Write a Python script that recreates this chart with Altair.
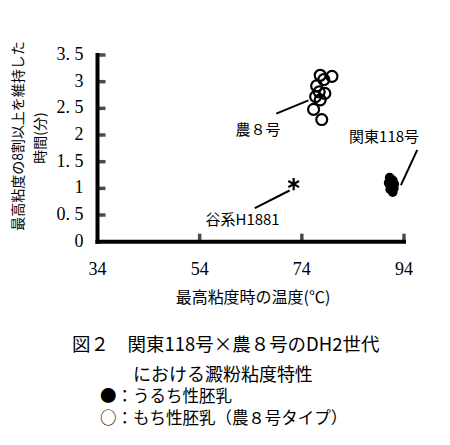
import altair as alt
import pandas as pd

# ---- data ----
waxy_x = [77.6, 79.9, 78.3, 76.9, 77.4, 78.5, 76.7, 77.6, 76.3, 77.9]   # 農8号タイプ (open)
waxy_y = [3.12, 3.10, 3.04, 2.92, 2.81, 2.78, 2.72, 2.66, 2.48, 2.29]
nonwaxy_x = [91.2, 91.8, 91.0, 91.5, 92.0, 91.3, 91.8, 92.1]          # 関東118号 (filled)
nonwaxy_y = [1.20, 1.15, 1.10, 1.05, 1.00, 0.98, 0.93, 1.08]
ref_x = [72.4]                                                        # 谷系H1881
ref_y = [1.08]

x_ticks = [34, 54, 74, 94]
y_ticks = [0, 0.5, 1, 1.5, 2, 2.5, 3, 3.5]
x_tick_labels = ["34", "54", "74", "94"]
y_tick_labels = ["0", "0. 5", "1", "1. 5", "2", "2. 5", "3", "3. 5"]

labels = ["農８号", "関東118号", "谷系H1881"]
label_x = [65.4, 90.1, 62.4]
label_y = [2.09, 1.96, 0.40]
leader_x1 = [69.0, 93.4, 64.8]
leader_y1 = [2.40, 1.06, 0.63]
leader_x2 = [75.3, 96.6, 71.6]
leader_y2 = [2.65, 1.72, 0.96]

x_title = "最高粘度時の温度(℃)"
y_title = ["最高粘度の8割以上を維持した", "時間(分)"]
caption = [
    "図２　関東118号×農８号のDH2世代",
    "における澱粉粘度特性",
    "●：うるち性胚乳",
    "○：もち性胚乳（農８号タイプ）",
]

JP = "Noto Sans CJK JP"
SERIF = "Liberation Serif"

xs = alt.Scale(domain=[34, 94], nice=False, zero=False)
ys = alt.Scale(domain=[0, 3.5], nice=False, zero=True)


def X(field="x"):
    return alt.X(f"{field}:Q", scale=xs, axis=None)


def Y(field="y"):
    return alt.Y(f"{field}:Q", scale=ys, axis=None)


x_lo, x_hi = x_ticks[0], x_ticks[-1]
y_lo, y_hi = y_ticks[0], y_ticks[-1]

waxy = pd.DataFrame({"x": waxy_x, "y": waxy_y})
nonwaxy = pd.DataFrame({"x": nonwaxy_x, "y": nonwaxy_y})
ref = pd.DataFrame({"x": ref_x, "y": ref_y})
ann = pd.DataFrame({"t": labels, "x": label_x, "y": label_y})
lead = pd.DataFrame({"x": leader_x1, "y": leader_y1, "x2": leader_x2, "y2": leader_y2})
ylab = pd.DataFrame({"y": y_ticks, "t": y_tick_labels, "x": [x_lo] * len(y_ticks)})
xlab = pd.DataFrame({"x": x_ticks, "t": x_tick_labels, "y": [y_lo] * len(x_ticks)})
axes_df = pd.DataFrame({"x": [x_lo, x_lo], "x2": [x_hi, x_lo],
                        "y": [y_lo, y_lo], "y2": [y_lo, y_hi]})

axis_lines = alt.Chart(axes_df).mark_rule(color="black", strokeWidth=4, strokeCap="square").encode(
    x=X(), y=Y(), x2="x2:Q", y2="y2:Q")

yticks = alt.Chart(ylab[ylab.y > y_lo]).mark_tick(color="black", thickness=3.5, size=8,
                                                  orient="horizontal", xOffset=4).encode(
    x=X(), y=Y())
xticks = alt.Chart(xlab[xlab.x > x_lo]).mark_tick(color="black", thickness=3.5, size=8,
                                                  orient="vertical", yOffset=-4).encode(
    x=X(), y=Y())

ylabels = alt.Chart(ylab).mark_text(font=SERIF, fontSize=18, color="black", align="right",
                                    baseline="middle", dx=-14).encode(x=X(), y=Y(), text="t:N")
xlabels = alt.Chart(xlab).mark_text(font=SERIF, fontSize=18, color="black", align="center",
                                    baseline="middle", dy=28).encode(x=X(), y=Y(), text="t:N")

open_pts = alt.Chart(waxy).mark_point(shape="circle", filled=False, color="black",
                                      strokeWidth=2.2, size=120, opacity=1).encode(
    x=X(), y=Y())

closed_pts = alt.Chart(nonwaxy).mark_point(shape="circle", filled=True, color="black",
                                           size=95, opacity=1).encode(x=X(), y=Y())

star = alt.Chart(ref).mark_point(
    shape="M0,-1L0,1M-0.87,-0.5L0.87,0.5M-0.87,0.5L0.87,-0.5",
    filled=False, color="black", strokeWidth=2.2, size=150, opacity=1).encode(x=X(), y=Y())

leaders = alt.Chart(lead).mark_rule(color="black", strokeWidth=2).encode(
    x=X(), y=Y(), x2="x2:Q", y2="y2:Q")

ann_text = alt.Chart(ann).mark_text(font=JP, fontSize=15, color="black").encode(
    x=X(), y=Y(), text="t:N")


def txt(s, px, py, size, align="left", angle=0, font=JP):
    kw = dict(font=font, fontSize=size, color="black", align=align, baseline="middle")
    if angle:
        kw["angle"] = angle
    return alt.Chart(pd.DataFrame({"t": [s]})).mark_text(**kw).encode(
        text="t:N", x=alt.value(px), y=alt.value(py))


layers = [axis_lines, yticks, xticks, ylabels, xlabels, leaders, open_pts, closed_pts,
          star, ann_text,
          txt(x_title, 155.5, 243, 16, align="center"),
          txt(y_title[0], -78.5, 81, 14, align="center", angle=270),
          txt(y_title[1], -57, 83, 14, align="center", angle=270),
          txt(caption[0], -25.5, 290, 18.5),
          txt(caption[1], 35.5, 321, 18),
          txt(caption[2], 2.5, 342.5, 16.5),
          txt(caption[3], 2.5, 364, 16.5)]

chart = alt.layer(*layers).properties(
    width=306.5, height=186.7,
    autosize=alt.AutoSizeParams(type="none"),
    padding={"left": 89.5, "top": 47, "right": 20, "bottom": 190},
    background="white",
).configure_view(strokeWidth=0)

chart.save("out.html", embed_options={"renderer": "svg", "actions": False})
